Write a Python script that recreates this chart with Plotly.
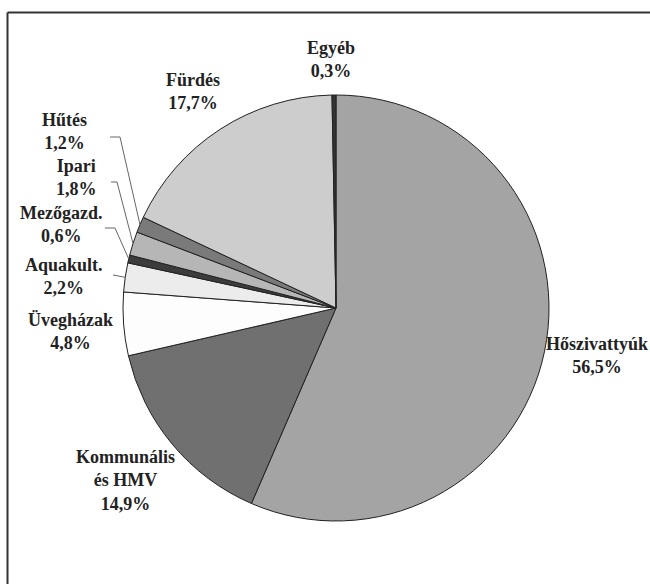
import math
import plotly.graph_objects as go

W, H = 650, 584

labels = ["Hőszivattyúk", "Kommunális és HMV", "Üvegházak", "Aquakult.", "Mezőgazd.",
          "Ipari", "Hűtés", "Fürdés", "Egyéb"]
label_text = ["Hőszivattyúk<br>56,5%", "Kommunális<br>és HMV<br>14,9%", "Üvegházak<br>4,8%",
              "Aquakult.<br>2,2%", "Mezőgazd.<br>0,6%", "Ipari<br>1,8%", "Hűtés<br>1,2%",
              "Fürdés<br>17,7%", "Egyéb<br>0,3%"]
values = [56.5, 14.9, 4.8, 2.2, 0.6, 1.8, 1.2, 17.7, 0.3]
colors = ["#a4a4a4", "#707070", "#fdfdfd", "#ececec", "#3c3c3c",
          "#b6b6b6", "#7a7a7a", "#cdcdcd", "#333333"]

# layout (pixels)
CX, CY, R = 336, 308, 213
label_pos = [(597, 355), (125, 480), (70, 331), (64, 276), (61, 224),
             (76, 177), (64, 131), (193, 92), (331, 59)]
# leader lines: (start point, elbow) for small slices
leaders = {3: [(113, 275)], 4: [(105, 228), (115, 228)],
           5: [(111, 182), (117, 182)], 6: [(110, 137), (120, 137)]}

def px(x):
    return x / W

def py(y):
    return 1 - y / H

fig = go.Figure(go.Pie(
    labels=labels, values=values, sort=False, direction="clockwise", rotation=0,
    marker=dict(colors=colors, line=dict(color="#222222", width=1)),
    textinfo="none", hoverinfo="label+percent",
    domain=dict(x=[px(CX - R), px(CX + R)], y=[py(CY + R), py(CY - R)]),
    showlegend=False,
))

FONT = "Liberation Serif, DejaVu Serif, Noto Serif, serif"
annotations = []
for txt, (x, y) in zip(label_text, label_pos):
    annotations.append(dict(
        text="<b>" + txt.replace("<br>", "</b><br><b>") + "</b>",
        x=px(x), y=py(y), xref="paper", yref="paper",
        xanchor="center", yanchor="middle", showarrow=False, align="center",
        font=dict(family=FONT, size=18, color="#222222"),
    ))

shapes = []
total = sum(values)
cum = 0
mids = []
for v in values:
    mids.append((cum + v / 2) / total * 360)
    cum += v
for i, pts in leaders.items():
    th = math.radians(mids[i])
    ex, ey = CX + R * math.sin(th), CY - R * math.cos(th)
    allp = pts + [(ex, ey)]
    path = "M " + " L ".join(f"{px(a):.5f},{py(b):.5f}" for a, b in allp)
    shapes.append(dict(type="path", path=path, xref="paper", yref="paper",
                       line=dict(color="#666666", width=1)))

# frame (left and top edges)
shapes.append(dict(type="line", xref="paper", yref="paper", x0=px(7.5), y0=0,
                   x1=px(7.5), y1=py(12.5), line=dict(color="#333333", width=2)))
shapes.append(dict(type="line", xref="paper", yref="paper", x0=px(7.5), y0=py(12.5),
                   x1=1, y1=py(12.5), line=dict(color="#333333", width=2)))

fig.update_layout(
    width=W, height=H, margin=dict(l=0, r=0, t=0, b=0),
    paper_bgcolor="white", plot_bgcolor="white",
    font=dict(family=FONT),
    annotations=annotations, shapes=shapes,
)

fig.write_html("out.html", config={"displayModeBar": False},
               post_script="document.body.style.margin='0';document.body.style.overflow='hidden';")
